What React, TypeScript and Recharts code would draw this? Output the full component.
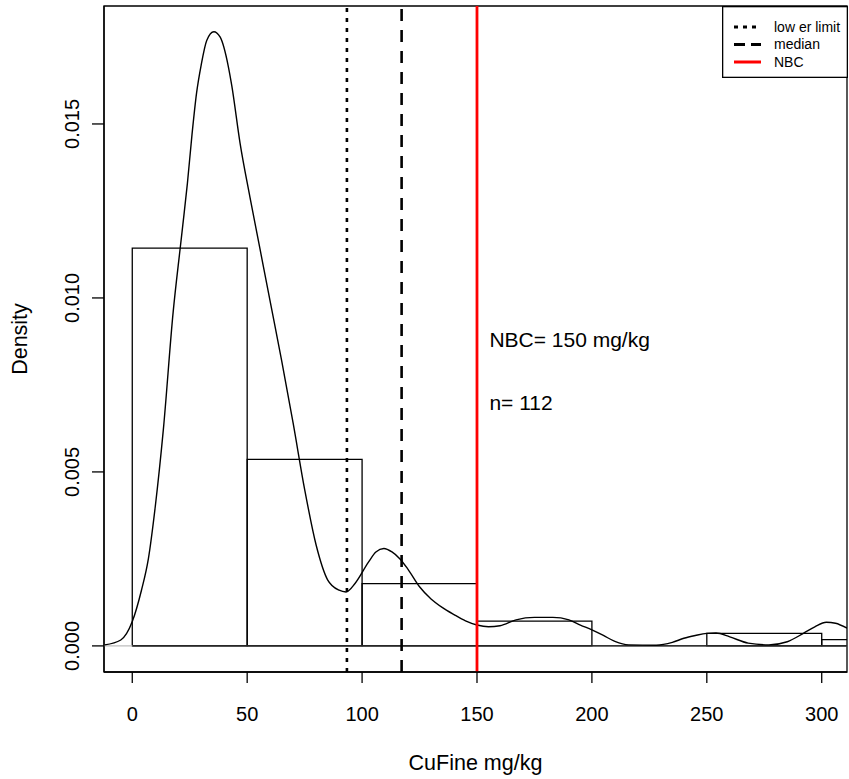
import {
  ComposedChart,
  Line,
  XAxis,
  YAxis,
  ReferenceArea,
  ReferenceLine,
  ReferenceDot,
} from 'recharts';

const FONT = '"Liberation Sans", Arial, sans-serif';

// histogram bins (start of each 50 mg/kg bin) and their densities
const binStarts = [0, 50, 100, 150, 200, 250, 300];
const binDensity = [0.01143, 0.00536, 0.00179, 0.00071, 0, 0.00036, 0.00018];
const BIN_WIDTH = 50;

// kernel density estimate
const curveX = [
  -12, -5, 0, 4, 7, 10, 13.5, 17.8, 20.8, 22, 24, 26, 28, 30, 32.4, 35.5, 38.2, 41.8, 43.3,
  46.9, 51.2, 55.6, 60, 65, 70, 75, 80, 85, 90, 93, 97, 102.7, 106, 109.5, 113, 116.5, 120,
  125, 130, 135, 140, 145, 150, 155, 160, 167, 175, 183, 190, 195, 200, 205, 210, 216, 228,
  235, 240, 245, 250, 254, 260, 268, 277, 285, 292, 297, 302, 306, 311,
];
const curveY = [
  0.00003, 0.00017, 0.0007, 0.0016, 0.0025, 0.004, 0.0062, 0.0096, 0.0114, 0.0121, 0.0133,
  0.0147, 0.0159, 0.0167, 0.0174, 0.01765, 0.0175, 0.01665, 0.0161, 0.01445, 0.0129, 0.0114,
  0.0099, 0.0082, 0.0064, 0.0045, 0.0029, 0.0019, 0.0016, 0.00155, 0.0018, 0.0024, 0.0027,
  0.0028, 0.0027, 0.0025, 0.0022, 0.0017, 0.00135, 0.0011, 0.0009, 0.00072, 0.0006, 0.00055,
  0.00058, 0.00075, 0.00082, 0.00082, 0.00075, 0.0006, 0.00046, 0.0003, 0.00013, 0.00003,
  0.00002, 0.0001, 0.00022, 0.0003, 0.00036, 0.00037, 0.00026, 0.00008, 0.00003, 0.00012,
  0.00036, 0.00055, 0.00068, 0.00065, 0.00051,
];

const xTicks = [0, 50, 100, 150, 200, 250, 300];
const yTicks = [0, 0.005, 0.01, 0.015];
const X_DOMAIN: [number, number] = [-12.3, 311];
const Y_DOMAIN: [number, number] = [-0.00075, 0.01839];

const LOWER_LIMIT = 93.4;
const MEDIAN = 117.2;
const NBC = 150;
const N_OBS = 112;
const NOTE_X = 155.4;
const NBC_NOTE_Y = 0.0088;
const N_NOTE_Y = 0.007;

const legendItems = [
  { label: 'low er limit', color: '#000', dash: '4 5' },
  { label: 'median', color: '#000', dash: '11 6' },
  { label: 'NBC', color: '#ff0000', dash: undefined },
];

const curveData = curveX.map((x, i) => ({ x, y: curveY[i] }));

const XTick = ({ x, y, payload }: any) => (
  <text x={x} y={y} dy={36} textAnchor="middle" fontSize={20} fontFamily={FONT} fill="#000">
    {payload.value}
  </text>
);

const YTick = ({ x, y, payload }: any) => (
  <text
    x={x - 11}
    y={y}
    transform={`rotate(-90 ${x - 11} ${y})`}
    textAnchor="middle"
    fontSize={20}
    fontFamily={FONT}
    fill="#000"
  >
    {Number(payload.value).toFixed(3)}
  </text>
);

const note = (text: string) => (p: any) => (
  <text x={p.viewBox.x} y={p.viewBox.y} dy="0.35em" fontSize={21} fontFamily={FONT} fill="#000">
    {text}
  </text>
);

export default function App() {
  return (
    <div style={{ position: 'absolute', left: 0, top: 0, width: 849, height: 779, background: '#fff' }}>
      <ComposedChart
        width={849}
        height={779}
        data={curveData}
        margin={{ top: 6, right: 2, bottom: 0, left: 0 }}
      >
        <XAxis
          type="number"
          dataKey="x"
          domain={X_DOMAIN}
          ticks={xTicks}
          allowDataOverflow
          height={107}
          tickSize={11}
          tick={<XTick />}
          axisLine={{ stroke: '#000', strokeWidth: 1.3 }}
          tickLine={{ stroke: '#000', strokeWidth: 1.3 }}
          label={{
            content: (p: any) => (
              <text
                x={p.viewBox.x + p.viewBox.width / 2}
                y={p.viewBox.y + 98}
                textAnchor="middle"
                fontSize={21.5}
                fontFamily={FONT}
                fill="#000"
              >
                CuFine mg/kg
              </text>
            ),
          }}
        />
        <YAxis
          type="number"
          domain={Y_DOMAIN}
          ticks={yTicks}
          allowDataOverflow
          width={104}
          tickSize={12}
          tick={<YTick />}
          axisLine={{ stroke: '#000', strokeWidth: 1.3 }}
          tickLine={{ stroke: '#000', strokeWidth: 1.3 }}
          label={{
            content: (p: any) => {
              const cx = p.viewBox.x + 27;
              const cy = p.viewBox.y + p.viewBox.height / 2;
              return (
                <text
                  x={cx}
                  y={cy}
                  transform={`rotate(-90 ${cx} ${cy})`}
                  textAnchor="middle"
                  fontSize={21.5}
                  fontFamily={FONT}
                  fill="#000"
                >
                  Density
                </text>
              );
            },
          }}
        />

        {/* frame round the plot region */}
        <ReferenceArea
          x1={X_DOMAIN[0]}
          x2={X_DOMAIN[1]}
          y1={Y_DOMAIN[0]}
          y2={Y_DOMAIN[1]}
          fill="none"
          stroke="#000"
          strokeWidth={1.3}
          ifOverflow="visible"
        />

        <ReferenceLine y={0} stroke="#bebebe" strokeWidth={1.3} ifOverflow="hidden" />
        <ReferenceLine
          segment={[{ x: 0, y: 0 }, { x: X_DOMAIN[1], y: 0 }]}
          stroke="#000"
          strokeWidth={1.3}
          ifOverflow="hidden"
        />

        {binStarts.map((s, i) =>
          binDensity[i] > 0 ? (
            <ReferenceArea
              key={s}
              x1={s}
              x2={s + BIN_WIDTH}
              y1={0}
              y2={binDensity[i]}
              fill="none"
              fillOpacity={0}
              stroke="#000"
              strokeWidth={1.3}
              strokeOpacity={1}
              ifOverflow="hidden"
            />
          ) : null,
        )}

        <Line
          type="monotone"
          dataKey="y"
          stroke="#000"
          strokeWidth={1.4}
          dot={false}
          isAnimationActive={false}
        />

        <ReferenceLine x={LOWER_LIMIT} stroke="#000" strokeWidth={2.6} strokeDasharray="4 6" />
        <ReferenceLine x={MEDIAN} stroke="#000" strokeWidth={2.6} strokeDasharray="12 9" />
        <ReferenceLine x={NBC} stroke="#ff0000" strokeWidth={2.8} />

        <ReferenceDot x={NOTE_X} y={NBC_NOTE_Y} r={0} fill="none" stroke="none" label={{ content: note(`NBC= ${NBC} mg/kg`) }} />
        <ReferenceDot x={NOTE_X} y={N_NOTE_Y} r={0} fill="none" stroke="none" label={{ content: note(`n= ${N_OBS}`) }} />
      </ComposedChart>

      <svg
        width={126}
        height={72}
        style={{ position: 'absolute', left: 721.5, top: 5.5 }}
      >
        <rect x={0.65} y={0.65} width={124.7} height={70.7} fill="#fff" stroke="#000" strokeWidth={1.3} />
        {legendItems.map((it, i) => (
          <g key={it.label}>
            <line
              x1={12}
              x2={39}
              y1={21 + i * 17.5}
              y2={21 + i * 17.5}
              stroke={it.color}
              strokeWidth={3}
              strokeDasharray={it.dash}
            />
            <text x={52} y={21 + i * 17.5} dy="0.35em" fontSize={14} fontFamily={FONT} fill="#000">
              {it.label}
            </text>
          </g>
        ))}
      </svg>
    </div>
  );
}
